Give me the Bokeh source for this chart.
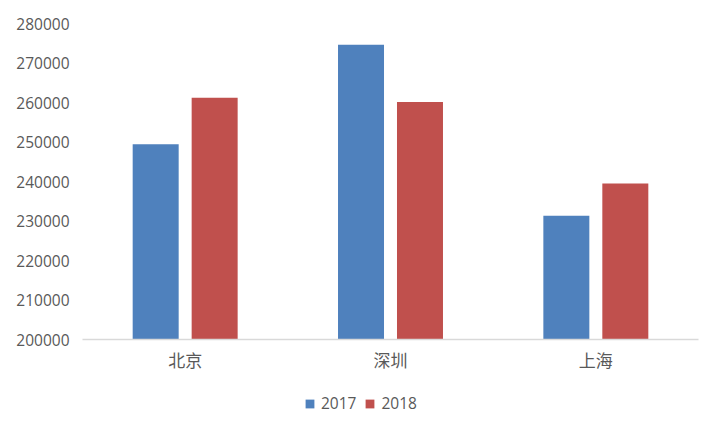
from bokeh.plotting import figure
from bokeh.models import ColumnDataSource, FactorRange, Legend, LegendItem, Range1d
from bokeh.layouts import column
from bokeh.transform import dodge
from bokeh.embed import file_html
from bokeh.resources import INLINE

cities = ["北京", "深圳", "上海"]
series_names = ["2017", "2018"]
values_2017 = [249400, 274600, 231300]
values_2018 = [261200, 260100, 239500]
y_ticks = [200000, 210000, 220000, 230000, 240000, 250000, 260000, 270000, 280000]
colors = ["#4f81bd", "#c0504d"]

source = ColumnDataSource(dict(city=cities, v2017=values_2017, v2018=values_2018))

p = figure(width=720, height=390, output_backend="svg", toolbar_location=None,
           x_range=FactorRange(*cities), y_range=Range1d(200000, 280000),
           min_border_left=82, min_border_right=22, min_border_top=23, min_border_bottom=51)
p.outline_line_color = None
p.grid.visible = False

p.vbar(x=dodge("city", -0.1436, range=p.x_range), top="v2017", bottom=200000, width=0.224,
       source=source, fill_color=colors[0], line_color=None)
p.vbar(x=dodge("city", 0.1436, range=p.x_range), top="v2018", bottom=200000, width=0.224,
       source=source, fill_color=colors[1], line_color=None)

p.yaxis.ticker = y_ticks
p.yaxis.axis_line_color = None
p.yaxis.major_tick_line_color = None
p.yaxis.minor_tick_line_color = None
p.yaxis.major_tick_out = 0
p.yaxis.major_label_standoff = 13
p.yaxis.major_label_text_font = "Open Sans"
p.yaxis.major_label_text_font_size = "15.5px"
p.yaxis.major_label_text_color = "#595959"
p.yaxis.formatter.use_scientific = False

p.xaxis.axis_line_color = "#d9d9d9"
p.xaxis.axis_line_width = 1.5
p.xaxis.major_tick_line_color = None
p.xaxis.minor_tick_line_color = None
p.xaxis.major_tick_out = 0
p.xaxis.major_label_standoff = 7
p.xaxis.major_label_text_font = "Noto Sans CJK SC"
p.xaxis.major_label_text_font_size = "17px"
p.xaxis.major_label_text_color = "#595959"

# legend strip below the chart (its own swatches lie outside its visible range)
lg = figure(width=720, height=42, output_backend="svg", toolbar_location=None,
            x_axis_type=None, y_axis_type=None, x_range=Range1d(0, 1), y_range=Range1d(0, 1),
            min_border=0)
lg.outline_line_color = None
lg.grid.visible = False
d1 = lg.vbar(x=[-10], top=[-10], bottom=[-11], width=0.1, fill_color=colors[0], line_color=None)
d2 = lg.vbar(x=[-10], top=[-10], bottom=[-11], width=0.1, fill_color=colors[1], line_color=None)
legend = Legend(items=[LegendItem(label=series_names[0], renderers=[d1]),
                       LegendItem(label=series_names[1], renderers=[d2])],
                orientation="horizontal", location=(222, 18),
                padding=0, margin=0, spacing=8, label_standoff=6,
                glyph_width=11, glyph_height=11,
                border_line_color=None, background_fill_alpha=0,
                label_text_font="Open Sans", label_text_font_size="15.5px",
                label_text_color="#595959")
lg.add_layout(legend, "center")

layout = column(p, lg, spacing=0)
open("out.html", "w").write(file_html(layout, INLINE))
